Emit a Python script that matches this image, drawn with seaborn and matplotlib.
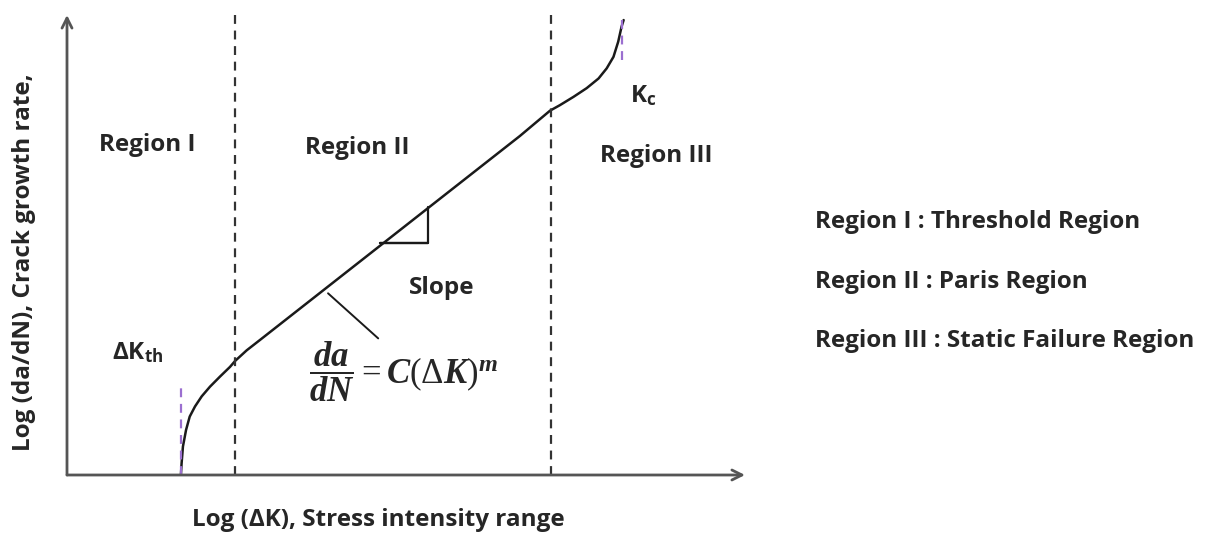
import matplotlib
matplotlib.use("Agg")
import matplotlib.pyplot as plt
import seaborn as sns
import pandas as pd

# ---- schematic data (log dK vs log da/dN, arbitrary units 0..10) ----
curve_x = [1.68, 1.69, 1.71, 1.756, 1.81, 1.888, 1.987, 2.109, 2.257, 2.404,
           2.48, 2.65, 2.85, 6.68, 7.124, 7.27, 7.47, 7.665, 7.84, 7.96,
           8.06, 8.13, 8.18, 8.21]
curve_y = [0.00, 0.25, 0.62, 0.98, 1.27, 1.49, 1.71, 1.92, 2.14, 2.35,
           2.48, 2.71, 2.94, 7.37, 7.92, 8.04, 8.22, 8.41, 8.62, 8.84,
           9.09, 9.42, 9.75, 9.89]
region_bounds = [2.48, 7.14]
dk_th = 1.68
dk_th_top = 2.0
k_c = 8.18
k_c_range = [9.02, 9.89]
slope_tri_x = [4.62, 5.32, 5.32]
slope_tri_y = [5.04, 5.04, 5.83]
pointer_x = [3.85, 4.59]
pointer_y = [3.95, 2.97]
region_labels = ["Region I", "Region II", "Region III"]
region_label_x = [1.19, 4.28, 8.69]
region_label_y = [7.17, 7.11, 6.93]
legend_lines = ["Region I : Threshold Region",
                "Region II : Paris Region",
                "Region III : Static Failure Region"]
legend_y = [5.50, 4.20, 2.91]

sns.set_theme(style="white")
plt.rcParams['font.family'] = ['Open Sans', 'DejaVu Sans']
plt.rcParams['mathtext.fontset'] = 'custom'
plt.rcParams['mathtext.it'] = 'Liberation Serif:bold:italic'
plt.rcParams['mathtext.rm'] = 'Liberation Serif'
plt.rcParams['mathtext.bf'] = 'Open Sans:bold'

W, H = 1206, 536
fig = plt.figure(figsize=(W / 100, H / 100), dpi=100)
ax = fig.add_axes([67 / W, (H - 475) / H, (745 - 67) / W, (475 - 15) / H])
ax.set_xlim(0, 10)
ax.set_ylim(0, 10)
for s in ax.spines.values():
    s.set_visible(False)
ax.set_xticks([])
ax.set_yticks([])

df = pd.DataFrame({"x": curve_x, "y": curve_y})
sns.lineplot(data=df, x="x", y="y", sort=False, color="#1a1a1a", lw=1.8, ax=ax)
ax.set_xlabel("")
ax.set_ylabel("")

# axes arrows
ax.annotate("", xy=(10, 0), xytext=(0, 0), annotation_clip=False,
            arrowprops=dict(arrowstyle="->", color="#555555", lw=2,
                            mutation_scale=18, shrinkA=0, shrinkB=0))
ax.annotate("", xy=(0, 10), xytext=(0, 0), annotation_clip=False,
            arrowprops=dict(arrowstyle="->", color="#555555", lw=2,
                            mutation_scale=18, shrinkA=0, shrinkB=0))

for b in region_bounds:
    ax.plot([b, b], [0, 10.07], ls=(0, (4, 3)), color="#333333", lw=1.6,
            clip_on=False)
ax.plot([dk_th, dk_th], [0, dk_th_top], ls=(0, (4, 3)), color="#9b6fd0", lw=1.6)
ax.plot([k_c, k_c], k_c_range, ls=(0, (4, 3)), color="#9b6fd0", lw=1.6)

ax.plot(slope_tri_x, slope_tri_y, color="#1a1a1a", lw=1.6)
ax.plot([slope_tri_x[0], slope_tri_x[1]], [slope_tri_y[0], slope_tri_y[1]],
        color="#1a1a1a", lw=1.6)
ax.plot(pointer_x, pointer_y, color="#1a1a1a", lw=1.4)

fs = 17.5
for lab, x, y in zip(region_labels, region_label_x, region_label_y):
    ax.text(x, y, lab, ha="center", va="center", fontsize=fs, fontweight="bold")
ax.text(8.50, 8.22, r"K$_\mathbf{c}$", ha="center", va="center",
        fontsize=fs, fontweight="bold")
ax.text(5.52, 4.07, "Slope", ha="center", va="center", fontsize=fs,
        fontweight="bold")
ax.text(1.05, 2.63, r"ΔK$_\mathbf{th}$", ha="center", va="center",
        fontsize=fs, fontweight="bold")
ax.text(4.96, 2.24, r"$\dfrac{da}{dN} = C(\Delta K)^m$", ha="center",
        va="center", fontsize=25)

for t, y in zip(legend_lines, legend_y):
    ax.text(11.03, y, t, ha="left", va="center", fontsize=fs,
            fontweight="bold", clip_on=False)

fig.text(378 / W, 1 - 520 / H, "Log (ΔK), Stress intensity range",
         ha="center", va="center", fontsize=fs, fontweight="bold")
fig.text(24 / W, 1 - 262 / H, "Log (da/dN), Crack growth rate,",
         ha="center", va="center", rotation=90, fontsize=fs, fontweight="bold")

fig.savefig("out.png", dpi=100, facecolor="white")
